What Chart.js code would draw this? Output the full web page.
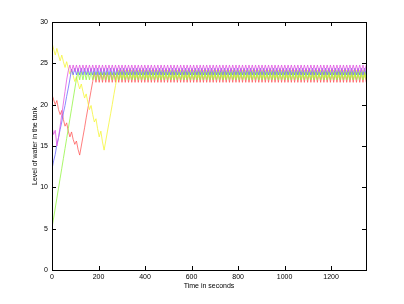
<!DOCTYPE html>
<html>
<head>
<meta charset="utf-8">
<script src="https://cdn.jsdelivr.net/npm/chart.js@4/dist/chart.umd.min.js"></script>
<style>
  html, body { margin: 0; padding: 0; background: #fff; }
  canvas { display: block; }
</style>
</head>
<body>
<canvas id="tankChart" width="404" height="304"></canvas>
<script>
// sample times (s)
const timeSec = [
  0,7,14,21,28,35,42,49,56,63,70,77,84,91,98,105,112,119,126,133,
  140,147,154,161,168,175,182,189,196,203,210,217,224,231,238,245,252,259,266,273,
  280,287,294,301,308,315,322,329,336,343,350,357,364,371,378,385,392,399,406,413,
  420,427,434,441,448,455,462,469,476,483,490,497,504,511,518,525,532,539,546,553,
  560,567,574,581,588,595,602,609,616,623,630,637,644,651,658,665,672,679,686,693,
  700,707,714,721,728,735,742,749,756,763,770,777,784,791,798,805,812,819,826,833,
  840,847,854,861,868,875,882,889,896,903,910,917,924,931,938,945,952,959,966,973,
  980,987,994,1001,1008,1015,1022,1029,1036,1043,1050,1057,1064,1071,1078,1085,1092,1099,1106,1113,
  1120,1127,1134,1141,1148,1155,1162,1169,1176,1183,1190,1197,1204,1211,1218,1225,1232,1239,1246,1253,
  1260,1267,1274,1281,1288,1295,1302,1309,1316,1323,1330,1337,1344,1351
];

const magentaLevel = [
  17.3,16.4,16.9,15.0,16.0,17.4,18.8,20.2,21.6,23.0,
  24.1,24.8,
  24.0,24.8,24.0,24.8,24.0,24.8,24.0,24.8,24.0,24.8,
  24.0,24.8,24.0,24.8,24.0,24.8,24.0,24.8,24.0,24.8,
  24.0,24.8,24.0,24.8,24.0,24.8,24.0,24.8,24.0,24.8,
  24.0,24.8,24.0,24.8,24.0,24.8,24.0,24.8,24.0,24.8,
  24.0,24.8,24.0,24.8,24.0,24.8,24.0,24.8,24.0,24.8,
  24.0,24.8,24.0,24.8,24.0,24.8,24.0,24.8,24.0,24.8,
  24.0,24.8,24.0,24.8,24.0,24.8,24.0,24.8,24.0,24.8,
  24.0,24.8,24.0,24.8,24.0,24.8,24.0,24.8,24.0,24.8,
  24.0,24.8,24.0,24.8,24.0,24.8,24.0,24.8,24.0,24.8,
  24.0,24.8,24.0,24.8,24.0,24.8,24.0,24.8,24.0,24.8,
  24.0,24.8,24.0,24.8,24.0,24.8,24.0,24.8,24.0,24.8,
  24.0,24.8,24.0,24.8,24.0,24.8,24.0,24.8,24.0,24.8,
  24.0,24.8,24.0,24.8,24.0,24.8,24.0,24.8,24.0,24.8,
  24.0,24.8,24.0,24.8,24.0,24.8,24.0,24.8,24.0,24.8,
  24.0,24.8,24.0,24.8,24.0,24.8,24.0,24.8,24.0,24.8,
  24.0,24.8,24.0,24.8,24.0,24.8,24.0,24.8,24.0,24.8,
  24.0,24.8,24.0,24.8,24.0,24.8,24.0,24.8,24.0,24.8,
  24.0,24.8,24.0,24.8,24.0,24.8,24.0,24.8,24.0,24.8,
  24.0,24.8
];

const blueLevel = [
  12.2,13.2,14.0,15.2,16.0,17.0,17.9,19.0,19.9,21.0,
  22.0,23.1,24.3,
  23.6,24.4,23.6,24.4,23.6,24.4,23.6,24.4,23.6,24.4,
  23.6,24.4,23.6,24.4,23.6,24.4,23.6,24.4,23.6,24.4,
  23.6,24.4,23.6,24.4,23.6,24.4,23.6,24.4,23.6,24.4,
  23.6,24.4,23.6,24.4,23.6,24.4,23.6,24.4,23.6,24.4,
  23.6,24.4,23.6,24.4,23.6,24.4,23.6,24.4,23.6,24.4,
  23.6,24.4,23.6,24.4,23.6,24.4,23.6,24.4,23.6,24.4,
  23.6,24.4,23.6,24.4,23.6,24.4,23.6,24.4,23.6,24.4,
  23.6,24.4,23.6,24.4,23.6,24.4,23.6,24.4,23.6,24.4,
  23.6,24.4,23.6,24.4,23.6,24.4,23.6,24.4,23.6,24.4,
  23.6,24.4,23.6,24.4,23.6,24.4,23.6,24.4,23.6,24.4,
  23.6,24.4,23.6,24.4,23.6,24.4,23.6,24.4,23.6,24.4,
  23.6,24.4,23.6,24.4,23.6,24.4,23.6,24.4,23.6,24.4,
  23.6,24.4,23.6,24.4,23.6,24.4,23.6,24.4,23.6,24.4,
  23.6,24.4,23.6,24.4,23.6,24.4,23.6,24.4,23.6,24.4,
  23.6,24.4,23.6,24.4,23.6,24.4,23.6,24.4,23.6,24.4,
  23.6,24.4,23.6,24.4,23.6,24.4,23.6,24.4,23.6,24.4,
  23.6,24.4,23.6,24.4,23.6,24.4,23.6,24.4,23.6,24.4,
  23.6,24.4,23.6,24.4,23.6,24.4,23.6,24.4,23.6,24.4,
  23.6
];

const greenLevel = [
  5.1,6.3,7.5,8.7,9.9,11.1,12.3,13.5,14.7,15.9,
  17.1,18.3,19.5,20.7,21.9,23.1,
  24.0,23.0,24.0,23.0,24.0,23.0,24.0,23.0,24.0,23.0,
  24.0,23.0,24.0,23.0,24.0,23.0,24.0,23.0,24.0,23.0,
  24.0,23.0,24.0,23.0,24.0,23.0,24.0,23.0,24.0,23.0,
  24.0,23.0,24.0,23.0,24.0,23.0,24.0,23.0,24.0,23.0,
  24.0,23.0,24.0,23.0,24.0,23.0,24.0,23.0,24.0,23.0,
  24.0,23.0,24.0,23.0,24.0,23.0,24.0,23.0,24.0,23.0,
  24.0,23.0,24.0,23.0,24.0,23.0,24.0,23.0,24.0,23.0,
  24.0,23.0,24.0,23.0,24.0,23.0,24.0,23.0,24.0,23.0,
  24.0,23.0,24.0,23.0,24.0,23.0,24.0,23.0,24.0,23.0,
  24.0,23.0,24.0,23.0,24.0,23.0,24.0,23.0,24.0,23.0,
  24.0,23.0,24.0,23.0,24.0,23.0,24.0,23.0,24.0,23.0,
  24.0,23.0,24.0,23.0,24.0,23.0,24.0,23.0,24.0,23.0,
  24.0,23.0,24.0,23.0,24.0,23.0,24.0,23.0,24.0,23.0,
  24.0,23.0,24.0,23.0,24.0,23.0,24.0,23.0,24.0,23.0,
  24.0,23.0,24.0,23.0,24.0,23.0,24.0,23.0,24.0,23.0,
  24.0,23.0,24.0,23.0,24.0,23.0,24.0,23.0,24.0,23.0,
  24.0,23.0,24.0,23.0,24.0,23.0,24.0,23.0,24.0,23.0,
  24.0,23.0,24.0,23.0,24.0,23.0,24.0,23.0
];

const yellowLevel = [
  27.5,26.7,26.0,26.8,26.0,25.3,26.0,25.2,24.5,25.2,
  24.4,23.7,24.3,23.5,22.8,23.4,22.6,21.9,22.5,21.6,
  20.8,21.3,20.3,19.4,19.9,18.8,17.9,18.3,17.1,16.1,
  16.8,15.5,14.5,15.6,16.7,17.8,18.9,20.0,21.2,22.3,
  23.4,
  24.2,23.3,24.2,23.3,24.2,23.3,24.2,23.3,24.2,23.3,
  24.2,23.3,24.2,23.3,24.2,23.3,24.2,23.3,24.2,23.3,
  24.2,23.3,24.2,23.3,24.2,23.3,24.2,23.3,24.2,23.3,
  24.2,23.3,24.2,23.3,24.2,23.3,24.2,23.3,24.2,23.3,
  24.2,23.3,24.2,23.3,24.2,23.3,24.2,23.3,24.2,23.3,
  24.2,23.3,24.2,23.3,24.2,23.3,24.2,23.3,24.2,23.3,
  24.2,23.3,24.2,23.3,24.2,23.3,24.2,23.3,24.2,23.3,
  24.2,23.3,24.2,23.3,24.2,23.3,24.2,23.3,24.2,23.3,
  24.2,23.3,24.2,23.3,24.2,23.3,24.2,23.3,24.2,23.3,
  24.2,23.3,24.2,23.3,24.2,23.3,24.2,23.3,24.2,23.3,
  24.2,23.3,24.2,23.3,24.2,23.3,24.2,23.3,24.2,23.3,
  24.2,23.3,24.2,23.3,24.2,23.3,24.2,23.3,24.2,23.3,
  24.2,23.3,24.2,23.3,24.2,23.3,24.2,23.3,24.2,23.3,
  24.2,23.3,24.2,23.3,24.2,23.3,24.2,23.3,24.2,23.3,
  24.2,23.3,24.2,23.3,24.2,23.3,24.2,23.3,24.2,23.3,
  24.2,23.3,24.2
];

const redLevel = [
  21.2,20.6,20.0,20.5,19.4,18.8,19.3,18.2,17.4,17.8,
  16.8,16.1,16.7,15.8,15.2,15.6,14.6,13.9,15.0,16.1,
  17.2,18.4,19.5,20.6,21.7,22.8,
  23.9,22.7,23.9,22.7,23.9,22.7,23.9,22.7,23.9,22.7,
  23.9,22.7,23.9,22.7,23.9,22.7,23.9,22.7,23.9,22.7,
  23.9,22.7,23.9,22.7,23.9,22.7,23.9,22.7,23.9,22.7,
  23.9,22.7,23.9,22.7,23.9,22.7,23.9,22.7,23.9,22.7,
  23.9,22.7,23.9,22.7,23.9,22.7,23.9,22.7,23.9,22.7,
  23.9,22.7,23.9,22.7,23.9,22.7,23.9,22.7,23.9,22.7,
  23.9,22.7,23.9,22.7,23.9,22.7,23.9,22.7,23.9,22.7,
  23.9,22.7,23.9,22.7,23.9,22.7,23.9,22.7,23.9,22.7,
  23.9,22.7,23.9,22.7,23.9,22.7,23.9,22.7,23.9,22.7,
  23.9,22.7,23.9,22.7,23.9,22.7,23.9,22.7,23.9,22.7,
  23.9,22.7,23.9,22.7,23.9,22.7,23.9,22.7,23.9,22.7,
  23.9,22.7,23.9,22.7,23.9,22.7,23.9,22.7,23.9,22.7,
  23.9,22.7,23.9,22.7,23.9,22.7,23.9,22.7,23.9,22.7,
  23.9,22.7,23.9,22.7,23.9,22.7,23.9,22.7,23.9,22.7,
  23.9,22.7,23.9,22.7,23.9,22.7,23.9,22.7,23.9,22.7,
  23.9,22.7,23.9,22.7,23.9,22.7,23.9,22.7,23.9,22.7,
  23.9,22.7,23.9,22.7,23.9,22.7,23.9,22.7
];

const xTicks = [0, 200, 400, 600, 800, 1000, 1200];
const yTicks = [0, 5, 10, 15, 20, 25, 30];

const tickFont = { family: "'Liberation Sans', Arial, sans-serif", size: 7 };

// matlab style box with inward ticks on all four sides
const boxPlugin = {
  id: 'box',
  afterDatasetsDraw(chart) {
    const { ctx, chartArea: a, scales: { x, y } } = chart;
    const len = 4;
    ctx.save();
    ctx.strokeStyle = '#000';
    ctx.lineWidth = 1;
    ctx.beginPath();
    xTicks.forEach(v => {
      const px = Math.round(x.getPixelForValue(v)) + 0.5;
      ctx.moveTo(px, a.bottom); ctx.lineTo(px, a.bottom - len);
      ctx.moveTo(px, a.top); ctx.lineTo(px, a.top + len);
    });
    yTicks.forEach(v => {
      const py = Math.round(y.getPixelForValue(v)) + 0.5;
      ctx.moveTo(a.left, py); ctx.lineTo(a.left + len, py);
      ctx.moveTo(a.right, py); ctx.lineTo(a.right - len, py);
    });
    ctx.stroke();
    ctx.strokeRect(Math.round(a.left) + 0.5, Math.round(a.top) + 0.5,
      Math.round(a.right - a.left), Math.round(a.bottom - a.top));
    ctx.restore();
  }
};

const series = [
  { data: magentaLevel, color: 'rgba(225,80,225,0.85)' },
  { data: blueLevel, color: 'rgba(100,100,255,0.85)' },
  { data: greenLevel, color: 'rgba(150,245,70,0.9)' },
  { data: yellowLevel, color: 'rgba(245,245,60,0.9)' },
  { data: redLevel, color: 'rgba(255,85,85,0.85)' }
];

new Chart(document.getElementById('tankChart').getContext('2d'), {
  type: 'line',
  data: {
    labels: timeSec,
    datasets: series.map(s => ({
      data: s.data,
      borderColor: s.color,
      borderWidth: 0.9,
      pointRadius: 0,
      fill: false,
      tension: 0
    }))
  },
  options: {
    responsive: false,
    animation: false,
    devicePixelRatio: 1,
    layout: { padding: { left: 0, right: 38, top: 22, bottom: 0 } },
    plugins: { legend: { display: false }, tooltip: { enabled: false } },
    scales: {
      x: {
        type: 'linear',
        min: 0,
        max: 1350,
        grid: { display: false, drawTicks: false },
        border: { display: false },
        afterBuildTicks: s => { s.ticks = xTicks.map(v => ({ value: v })); },
        afterFit: s => { s.height = 34; },
        ticks: { font: tickFont, color: '#000', padding: 3, maxRotation: 0, callback: v => String(v) },
        title: {
          display: true, text: 'Time in seconds', color: '#000',
          font: tickFont, padding: { top: 0, bottom: 14 }
        }
      },
      y: {
        min: 0,
        max: 30,
        grid: { display: false, drawTicks: false },
        border: { display: false },
        afterBuildTicks: s => { s.ticks = yTicks.map(v => ({ value: v })); },
        afterFit: s => { s.width = 52; },
        ticks: { font: tickFont, color: '#000', padding: 4, callback: v => String(v) },
        title: {
          display: true, text: 'Level of water in the tank', color: '#000',
          font: tickFont, padding: { top: 31, bottom: 0 }
        }
      }
    }
  },
  plugins: [boxPlugin]
});
</script>
</body>
</html>
